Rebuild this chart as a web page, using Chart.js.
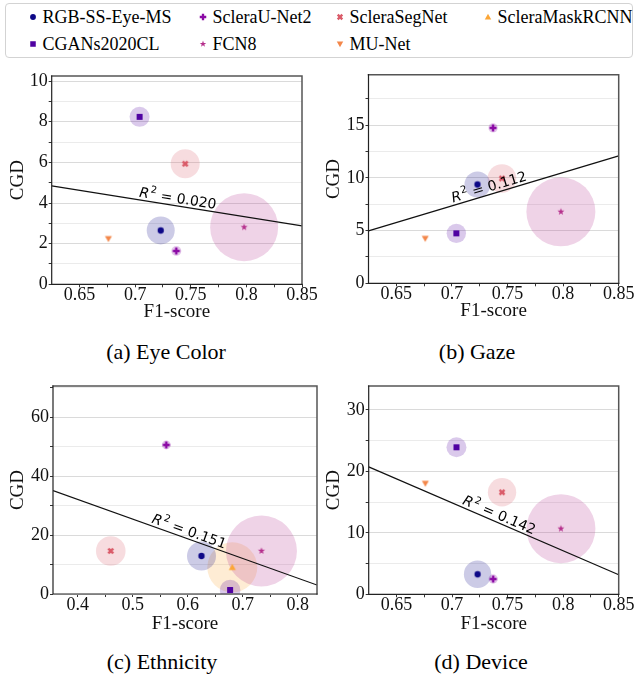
<!DOCTYPE html>
<html>
<head>
<meta charset="utf-8">
<script src="https://cdn.jsdelivr.net/npm/chart.js@4.4.1/dist/chart.umd.min.js"></script>
<style>
  html, body { margin:0; padding:0; background:#fff; }
  body { width:636px; height:679px; position:relative; overflow:hidden; font-family:"Liberation Serif","Times New Roman",serif; color:#000; }
  #legendBox { position:absolute; left:5px; top:3px; width:628px; height:55px; border:1px solid #d3d3d3; border-radius:4px; box-sizing:border-box; }
  .ltxt { position:absolute; font-size:18px; line-height:18px; white-space:nowrap; }
  .cap { position:absolute; font-size:22px; line-height:22px; white-space:nowrap; transform:translate(-50%,-50%); }
  .pan { position:absolute; }
  .pan canvas { display:block; }
</style>
</head>
<body>
<div id="legendBox"></div>
<script>
// ---------------- data ----------------
const models = ['RGB-SS-Eye-MS', 'CGANs2020CL', 'ScleraU-Net2', 'FCN8', 'ScleraSegNet', 'MU-Net', 'ScleraMaskRCNN'];
const f1Main      = [0.723, 0.704, 0.737, 0.798, 0.745, 0.676, null];
const f1Ethnicity = [0.625, 0.677, 0.561, 0.734, 0.460, null, 0.681];
const cgdEyeColor  = [2.65, 8.24, 1.64, 2.81, 5.93, 2.25, null];
const cgdGaze      = [9.38, 4.74, 14.75, 6.79, 9.95, 4.27, null];
const cgdEthnicity = [12.9, 1.36, 50.6, 14.6, 14.6, null, 9.06];
const cgdDevice    = [3.26, 23.93, 2.49, 10.68, 16.6, 18.07, null];
const bubbleEyeColor  = [14, 10, 5, 34, 14.5, 0, null];
const bubbleGaze      = [13, 9.7, 4.7, 34.5, 14.3, 0, null];
const bubbleEthnicity = [14.5, 10.3, 4.5, 35.5, 14.8, null, 25];
const bubbleDevice    = [13.7, 10, 4.7, 34.5, 14.2, 0, null];
const r2Labels  = ['0.020', '0.112', '0.151', '0.142'];
const r2LabelAt = [0.7374, 0.7353, 0.598, 0.7399];
const captions  = ['(a) Eye Color', '(b) Gaze', '(c) Ethnicity', '(d) Device'];
const xTicksMain      = [0.65, 0.7, 0.75, 0.8, 0.85];
const xTicksEthnicity = [0.4, 0.5, 0.6, 0.7, 0.8];
const yTicksEyeColor  = [0, 2, 4, 6, 8, 10];
const yTicksGaze      = [0, 5, 10, 15];
const yTicksEthnicity = [0, 20, 40, 60];
const yTicksDevice    = [0, 10, 20, 30];
const xLimMain      = [0.625, 0.85];
const xLimEthnicity = [0.355, 0.835];
const yLimEyeColor  = [0, 10.25];
const yLimGaze      = [0, 19.8];
const yLimEthnicity = [0, 70.6];
const yLimDevice    = [0, 33.9];

// ---------------- styles ----------------
const SERIF = '"Liberation Serif", "Times New Roman", serif';
const SANS = '"DejaVu Sans", Verdana, sans-serif';
const colors = ['#0d0887', '#5002a2', '#8b0aa5', '#b52f8c', '#da5b69', '#f3874a', '#fca636'];
const shapes = ['circle', 'square', 'plus', 'star', 'x', 'triDown', 'triUp'];
const HALO_ALPHA = 0.21;

function rgba(hex, a) {
  const n = parseInt(hex.slice(1), 16);
  return `rgba(${(n >> 16) & 255},${(n >> 8) & 255},${n & 255},${a})`;
}

function drawShape(g, shape, cx, cy, s, color) {
  g.fillStyle = color;
  g.beginPath();
  const h = s / 2;
  if (shape === 'circle') {
    g.arc(cx, cy, h * 0.9, 0, Math.PI * 2);
  } else if (shape === 'square') {
    g.rect(cx - h * 0.85, cy - h * 0.85, h * 1.7, h * 1.7);
  } else if (shape === 'plus' || shape === 'x') {
    const w = h * 0.36, rot = shape === 'x' ? Math.PI / 4 : 0;
    const pts = [[-w,-h],[w,-h],[w,-w],[h,-w],[h,w],[w,w],[w,h],[-w,h],[-w,w],[-h,w],[-h,-w],[-w,-w]];
    pts.forEach(([px, py], i) => {
      const X = cx + px * Math.cos(rot) - py * Math.sin(rot);
      const Y = cy + px * Math.sin(rot) + py * Math.cos(rot);
      i ? g.lineTo(X, Y) : g.moveTo(X, Y);
    });
    g.closePath();
  } else if (shape === 'triUp') {
    g.moveTo(cx, cy - h); g.lineTo(cx + h, cy + h * 0.75); g.lineTo(cx - h, cy + h * 0.75); g.closePath();
  } else if (shape === 'triDown') {
    g.moveTo(cx, cy + h); g.lineTo(cx + h, cy - h * 0.75); g.lineTo(cx - h, cy - h * 0.75); g.closePath();
  } else if (shape === 'star') {
    for (let i = 0; i < 10; i++) {
      const r = i % 2 ? h * 0.42 : h * 1.05;
      const a = -Math.PI / 2 + i * Math.PI / 5;
      const X = cx + r * Math.cos(a), Y = cy + r * Math.sin(a);
      i ? g.lineTo(X, Y) : g.moveTo(X, Y);
    }
    g.closePath();
  }
  g.fill();
}

function makeMarker(shape, color, size) {
  const c = document.createElement('canvas');
  const n = 12;
  c.width = n; c.height = n;
  drawShape(c.getContext('2d'), shape, n / 2, n / 2, size, color);
  return c;
}
const markerImgs = models.map((_, i) => makeMarker(shapes[i], colors[i], 7));

// ---------------- legend ----------------
const legendSlots = [[33, 17], [33, 44], [203, 17], [203, 44], [340, 17], [340, 44], [488, 17]];
models.forEach((m, i) => {
  const [mx, my] = legendSlots[i];
  const c = makeMarker(shapes[i], colors[i], 6.5);
  c.style.position = 'absolute';
  c.style.left = (mx - 6) + 'px';
  c.style.top = (my - 6) + 'px';
  document.body.appendChild(c);
  const t = document.createElement('div');
  t.className = 'ltxt';
  t.textContent = m;
  t.style.left = (mx + 9.5) + 'px';
  t.style.top = (my - 9) + 'px';
  document.body.appendChild(t);
});

// ---------------- panels ----------------
const panelLayout = [
  { cl: 0,   ct: 62,  w: 318, h: 270, L: 51.7,  T: 76,   R: 302,   B: 284.3, yTitleX: 18.5,  xTitleGap: 28, capX: 166, capY: 352 },
  { cl: 318, ct: 62,  w: 318, h: 270, L: 368.5, T: 74.7, R: 618.7, B: 283.3, yTitleX: 334.5, xTitleGap: 28, capX: 477, capY: 352 },
  { cl: 0,   ct: 372, w: 318, h: 270, L: 53,    T: 386,  R: 317,   B: 594,   yTitleX: 17.7,  xTitleGap: 30, capX: 162, capY: 662 },
  { cl: 318, ct: 372, w: 318, h: 270, L: 368.7, T: 386,  R: 618.7, B: 594.3, yTitleX: 334.5, xTitleGap: 30, capX: 481, capY: 662 }
];
const panelF1 = [f1Main, f1Main, f1Ethnicity, f1Main];
const panelCGD = [cgdEyeColor, cgdGaze, cgdEthnicity, cgdDevice];
const panelBubble = [bubbleEyeColor, bubbleGaze, bubbleEthnicity, bubbleDevice];
const panelXLim = [xLimMain, xLimMain, xLimEthnicity, xLimMain];
const panelYLim = [yLimEyeColor, yLimGaze, yLimEthnicity, yLimDevice];
const panelXTicks = [xTicksMain, xTicksMain, xTicksEthnicity, xTicksMain];
const panelYTicks = [yTicksEyeColor, yTicksGaze, yTicksEthnicity, yTicksDevice];

function minorTicks(major, lim) {
  const step = major[1] - major[0];
  const out = [];
  [major[0] - step / 2, ...major.map(v => v + step / 2)].forEach(v => {
    const r = Math.round(v * 1e6) / 1e6;
    if (r > lim[0] + 1e-9 && r < lim[1] - 1e-9) out.push(r);
  });
  return out;
}
const isIn = (arr, v) => arr.some(m => Math.abs(m - v) < 1e-9);
const fmt = v => String(Number(v.toFixed(3)));

const framePlugin = {
  id: 'frame',
  afterDraw(chart) {
    const { ctx, chartArea: a } = chart;
    ctx.save();
    ctx.lineCap = 'square';
    ctx.strokeStyle = '#555'; ctx.lineWidth = 1.5;
    ctx.beginPath(); ctx.moveTo(a.left, a.top); ctx.lineTo(a.right, a.top); ctx.lineTo(a.right, a.bottom); ctx.stroke();
    ctx.strokeStyle = '#222'; ctx.lineWidth = 1.2;
    ctx.beginPath(); ctx.moveTo(a.left, a.top); ctx.lineTo(a.left, a.bottom); ctx.lineTo(a.right, a.bottom); ctx.stroke();
    ctx.restore();
  }
};

const r2Plugin = {
  id: 'r2label',
  afterDatasetsDraw(chart, args, opts) {
    if (!opts || opts.text == null) return;
    const { ctx } = chart; const xs = chart.scales.x, ys = chart.scales.y;
    const f = v => opts.m * v + opts.b;
    const x0 = xs.getPixelForValue(xs.min), y0 = ys.getPixelForValue(f(xs.min));
    const x1 = xs.getPixelForValue(xs.max), y1 = ys.getPixelForValue(f(xs.max));
    const ang = Math.atan2(y1 - y0, x1 - x0);
    const ax = xs.getPixelForValue(opts.at), ay = ys.getPixelForValue(f(opts.at));
    ctx.save();
    ctx.translate(ax, ay); ctx.rotate(ang);
    const fR = 'italic 14px ' + SANS, fS = '10px ' + SANS, fN = '14px ' + SANS;
    ctx.font = fR; const wR = ctx.measureText('R').width;
    ctx.font = fS; const wS = ctx.measureText('2').width;
    const rest = ' = ' + opts.text;
    ctx.font = fN; const wN = ctx.measureText(rest).width;
    const tot = wR + 1 + wS + wN;
    let cx = -tot / 2; const by = -3;
    ctx.fillStyle = '#000'; ctx.textBaseline = 'alphabetic'; ctx.textAlign = 'left';
    ctx.font = fR; ctx.fillText('R', cx, by); cx += wR + 1;
    ctx.font = fS; ctx.fillText('2', cx, by - 6); cx += wS;
    ctx.font = fN; ctx.fillText(rest, cx, by);
    ctx.restore();
  }
};

panelLayout.forEach((P, k) => {
  const wrap = document.createElement('div');
  wrap.className = 'pan';
  wrap.style.left = P.cl + 'px'; wrap.style.top = P.ct + 'px';
  wrap.style.width = P.w + 'px'; wrap.style.height = P.h + 'px';
  const cv = document.createElement('canvas');
  cv.width = P.w; cv.height = P.h;
  cv.style.width = P.w + 'px'; cv.style.height = P.h + 'px';
  wrap.appendChild(cv);
  document.body.appendChild(wrap);

  const cap = document.createElement('div');
  cap.className = 'cap'; cap.textContent = captions[k];
  cap.style.left = P.capX + 'px'; cap.style.top = P.capY + 'px';
  document.body.appendChild(cap);

  const xv = panelF1[k], yv = panelCGD[k], rv = panelBubble[k];
  const xl = panelXLim[k], yl = panelYLim[k];
  const xMaj = panelXTicks[k], yMaj = panelYTicks[k];
  const xMin = minorTicks(xMaj, xl), yMin = minorTicks(yMaj, yl);
  const xAll = [...xMaj, ...xMin].sort((a, b) => a - b);
  const yAll = [...yMaj, ...yMin].sort((a, b) => a - b);

  const idx = models.map((_, i) => i).filter(i => xv[i] != null && yv[i] != null);
  const n = idx.length;
  const mx = idx.reduce((s, i) => s + xv[i], 0) / n;
  const my = idx.reduce((s, i) => s + yv[i], 0) / n;
  let sxy = 0, sxx = 0;
  idx.forEach(i => { sxy += (xv[i] - mx) * (yv[i] - my); sxx += (xv[i] - mx) ** 2; });
  const slope = sxy / sxx, icpt = my - slope * mx;

  const datasets = [];
  idx.forEach(i => {
    if (rv[i] > 0) {
      datasets.push({ type: 'bubble', data: [{ x: xv[i], y: yv[i], r: rv[i] }],
        backgroundColor: rgba(colors[i], HALO_ALPHA), borderWidth: 0, hoverRadius: 0, hoverBorderWidth: 0, order: 2, clip: 0 });
    }
    datasets.push({ type: 'scatter', data: [{ x: xv[i], y: yv[i] }], pointStyle: markerImgs[i],
      pointRadius: 3, pointHoverRadius: 3, order: 0 });
  });
  datasets.push({ type: 'line', data: [{ x: xl[0], y: slope * xl[0] + icpt }, { x: xl[1], y: slope * xl[1] + icpt }],
    borderColor: '#111', borderWidth: 1.2, pointRadius: 0, fill: false, tension: 0, order: 1, clip: 0 });

  const yW = P.L - P.cl;
  const xH = P.ct + P.h - P.B;
  const lhTitle = 19 * 1.2;

  new Chart(cv, {
    type: 'scatter',
    data: { datasets },
    options: {
      responsive: false, animation: false, devicePixelRatio: 1, events: [],
      layout: { autoPadding: false, padding: { left: 0, top: P.T - P.ct, right: P.cl + P.w - P.R, bottom: 0 } },
      plugins: {
        legend: { display: false }, tooltip: { enabled: false },
        r2label: { m: slope, b: icpt, at: r2LabelAt[k], text: r2Labels[k] }
      },
      scales: {
        x: {
          type: 'linear', min: xl[0], max: xl[1],
          afterBuildTicks: ax => { ax.ticks = xAll.map(v => ({ value: v })); },
          afterFit: s => { s.height = xH; },
          ticks: { autoSkip: false, maxRotation: 0, minRotation: 0, padding: -1, color: '#111',
            font: { family: SERIF, size: 18, lineHeight: 1 },
            callback: v => isIn(xMaj, v) ? fmt(v) : '' },
          grid: { display: true, drawOnChartArea: false, drawTicks: true, tickLength: 3, tickColor: '#333', tickWidth: 1 },
          border: { display: false },
          title: { display: true, text: 'F1-score', color: '#111', font: { family: SERIF, size: 19 },
            padding: { top: 0, bottom: xH - P.xTitleGap - lhTitle / 2 } }
        },
        y: {
          type: 'linear', min: yl[0], max: yl[1],
          afterBuildTicks: ax => { ax.ticks = yAll.map(v => ({ value: v })); },
          afterFit: s => { s.width = yW; },
          ticks: { autoSkip: false, padding: 1, color: '#111',
            font: { family: SERIF, size: 18, lineHeight: 1 },
            callback: v => isIn(yMaj, v) ? fmt(v) : '' },
          grid: { display: true, drawOnChartArea: true, drawTicks: true, tickLength: 3, tickColor: '#333', tickWidth: 1,
            lineWidth: 1, color: c => (c.tick && isIn(yMaj, c.tick.value)) ? '#dadada' : '#ebebeb' },
          border: { display: false },
          title: { display: true, text: 'CGD', color: '#111', font: { family: SERIF, size: 19 },
            padding: { top: P.yTitleX - P.cl - lhTitle / 2, bottom: 0 } }
        }
      }
    },
    plugins: [framePlugin, r2Plugin]
  });
});
</script>
</body>
</html>
